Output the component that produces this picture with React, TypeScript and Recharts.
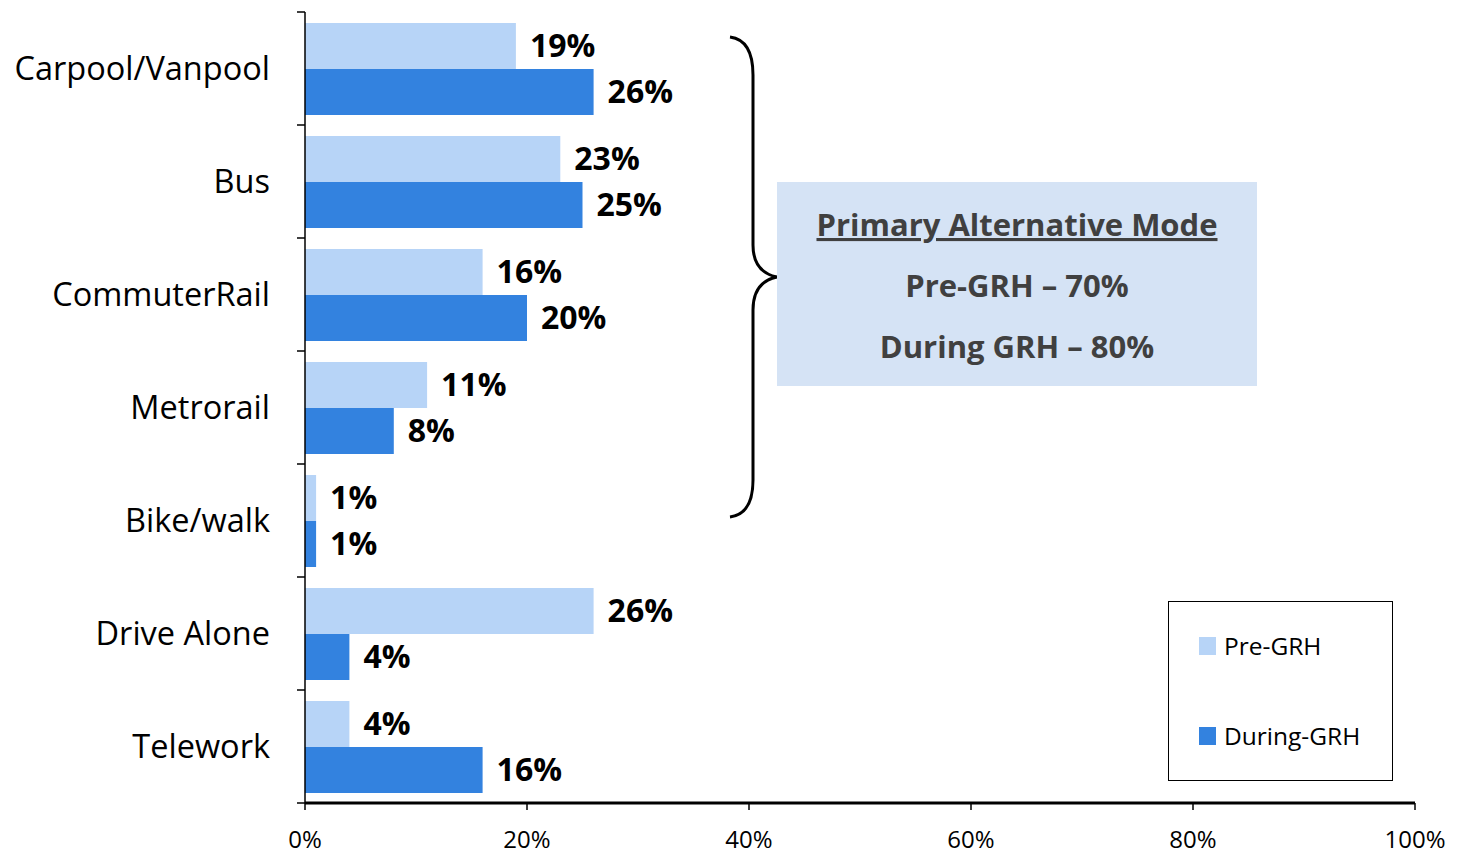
import React from 'react';
import { BarChart, Bar, XAxis, YAxis, LabelList } from 'recharts';

const modes = ['Carpool/Vanpool', 'Bus', 'CommuterRail', 'Metrorail', 'Bike/walk', 'Drive Alone', 'Telework'];
const preGrh = [19, 23, 16, 11, 1, 26, 4];
const duringGrh = [26, 25, 20, 8, 1, 4, 16];
const xTicks = [0, 20, 40, 60, 80, 100];

const summaryTitle = 'Primary Alternative Mode';
const summaryLines = ['Pre-GRH \u2013 70%', 'During GRH \u2013 80%'];

const PRE_COLOR = '#b7d4f7';
const DURING_COLOR = '#3382df';
const FONT = '"Open Sans", "DejaVu Sans", sans-serif';

const W = 1458;
const H = 855;
const TOP = 12;
const PLOT_BOTTOM = 803;
const BAND = (PLOT_BOTTOM - TOP) / modes.length;

const data = modes.map((name, i) => ({ name, pre: preGrh[i], during: duringGrh[i] }));

// category label plus the boundary tick marks Excel puts between categories
const ModeTick = (props: any) => {
  const { x, y, payload, index } = props;
  const axisX = x + 35;
  return (
    <g>
      <line x1={axisX - 8} x2={axisX} y1={y - BAND / 2} y2={y - BAND / 2} stroke="#000" strokeWidth={1.5} />
      {index === modes.length - 1 && (
        <line x1={axisX - 8} x2={axisX} y1={y + BAND / 2} y2={y + BAND / 2} stroke="#000" strokeWidth={1.5} />
      )}
      <text x={x} y={y} dy={11} textAnchor="end" fill="#000" fontSize={32.5} fontFamily={FONT}>
        {payload.value}
      </text>
    </g>
  );
};

const Overlay: React.FC = () => (
  <svg width={W} height={H} style={{ position: 'absolute', left: 0, top: 0, pointerEvents: 'none' }}>
    <path
      d="M730,37 Q753,40 753,75 L753,245 Q753,272 777,277 Q753,282 753,310 L753,480 Q753,514 730,517"
      fill="none"
      stroke="#000"
      strokeWidth={3}
    />
    <rect x={777} y={182} width={480} height={204} fill="#d5e3f5" />
    <text x={1017} y={236} textAnchor="middle" fontSize={31} fontWeight="bold" fill="#404040" fontFamily={FONT} textDecoration="underline">
      {summaryTitle}
    </text>
    {summaryLines.map((t, i) => (
      <text key={t} x={1017} y={297 + i * 61} textAnchor="middle" fontSize={31} fontWeight="bold" fill="#404040" fontFamily={FONT}>
        {t}
      </text>
    ))}

    <rect x={1168.5} y={601.5} width={224} height={179} fill="#fff" stroke="#000" strokeWidth={1} />
    <rect x={1199} y={637} width={17} height={18} fill={PRE_COLOR} />
    <text x={1224} y={655} fontSize={24.5} fill="#000" fontFamily={FONT}>Pre-GRH</text>
    <rect x={1199} y={727} width={17} height={18} fill={DURING_COLOR} />
    <text x={1224} y={745} fontSize={24.5} fill="#000" fontFamily={FONT}>During-GRH</text>
  </svg>
);

const App: React.FC = () => {
  const valueLabel = { fill: '#000', fontSize: 32, fontWeight: 'bold' as const, fontFamily: FONT };
  return (
    <div style={{ position: 'absolute', left: 0, top: 0, width: W, height: H, background: '#fff' }}>
      <BarChart
        width={W}
        height={H}
        data={data}
        layout="vertical"
        margin={{ top: TOP, right: 43, left: 0, bottom: 4 }}
        barCategoryGap={11}
        barGap={0}
      >
        <XAxis
          type="number"
          domain={[0, 100]}
          ticks={xTicks}
          tickFormatter={(v) => `${v}%`}
          axisLine={{ stroke: '#000', strokeWidth: 3 }}
          tickLine={{ stroke: '#000', strokeWidth: 1.5 }}
          tickSize={7}
          tickMargin={21}
          height={48}
          interval={0}
          tick={{ fill: '#000', fontSize: 24, fontFamily: FONT }}
        />
        <YAxis
          type="category"
          dataKey="name"
          width={305}
          axisLine={{ stroke: '#000', strokeWidth: 1.5 }}
          tickLine={false}
          tickSize={8}
          tickMargin={27}
          interval={0}
          tick={<ModeTick />}
        />
        <Bar dataKey="pre" fill={PRE_COLOR} isAnimationActive={false}>
          <LabelList dataKey="pre" position="right" offset={14} formatter={(v: any) => `${v}%`} style={valueLabel} />
        </Bar>
        <Bar dataKey="during" fill={DURING_COLOR} isAnimationActive={false}>
          <LabelList dataKey="during" position="right" offset={14} formatter={(v: any) => `${v}%`} style={valueLabel} />
        </Bar>
      </BarChart>
      <Overlay />
    </div>
  );
};

export default App;
